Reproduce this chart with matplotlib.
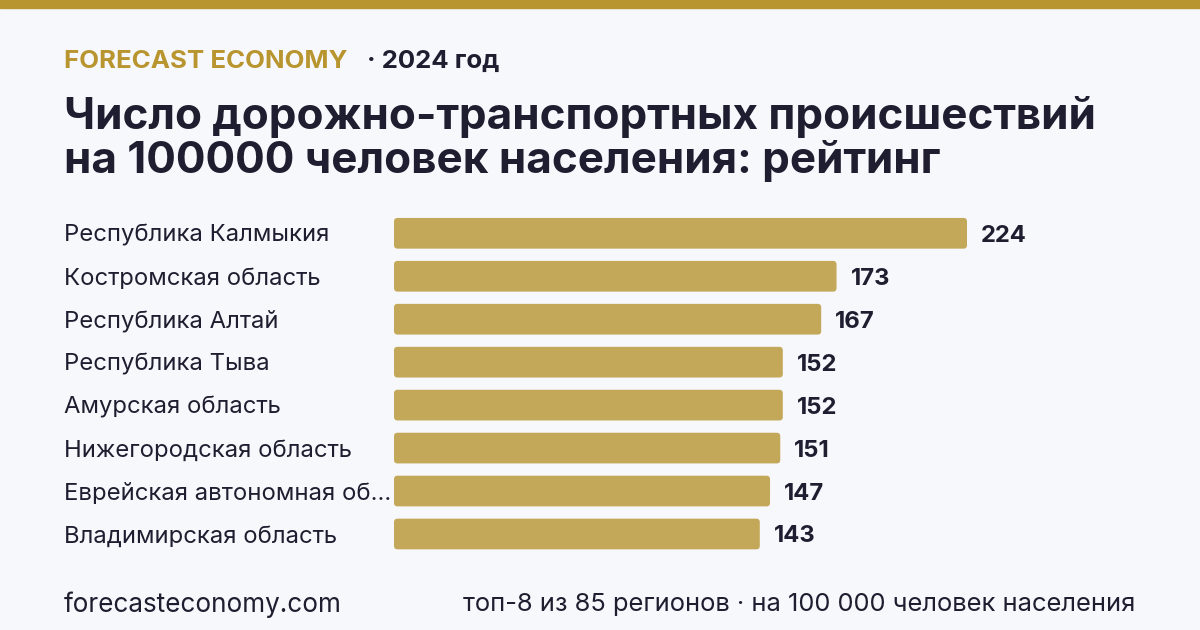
import numpy as np
import matplotlib.pyplot as plt
from matplotlib.patches import FancyBboxPatch, Rectangle
from matplotlib.transforms import blended_transform_factory

# data
regions = [
    "Республика Калмыкия",
    "Костромская область",
    "Республика Алтай",
    "Республика Тыва",
    "Амурская область",
    "Нижегородская область",
    "Еврейская автономная об…",
    "Владимирская область",
]
values = [224, 173, 167, 152, 152, 151, 147, 143]

brand = "FORECAST ECONOMY"
year_text = "· 2024 год"
title = "Число дорожно-транспортных происшествий\nна 100000 человек населения: рейтинг"
footer_left = "forecasteconomy.com"
footer_right = "топ-8 из 85 регионов · на 100 000 человек населения"

BG = "#F7F8FC"
GOLD = "#B8952E"
BAR = "#C4A85A"
DARK = "#1E1E30"

plt.rcParams['font.family'] = ['Inter', 'DejaVu Sans']

W, H = 1200, 630
fig = plt.figure(figsize=(W / 100, H / 100), dpi=100)
fig.patch.set_facecolor(BG)

def fy(px):
    return 1 - px / H

# top stripe
fig.patches.append(Rectangle((0, fy(8)), 1, 8 / H, transform=fig.transFigure,
                             color=GOLD, zorder=0))

# header
fig.text(64 / W, fy(61), brand, color=GOLD, fontsize=18.6, fontweight="bold",
         va="center", ha="left")
fig.text(367 / W, fy(61), year_text, color=DARK, fontsize=18.5, fontweight="bold",
         va="center", ha="left")

fig.text(64 / W, fy(139), title, color=DARK, fontsize=31.7, fontweight="bold",
         va="center", ha="left", linespacing=1.08)

# bars
row = 300.7 / 7
top = 233.3 - row / 2
ax_h = row * 8
ax = fig.add_axes([394 / W, fy(top + ax_h), 573 / W, ax_h / H])
ax.set_facecolor("none")
ax.set_xlim(0, max(values))
ax.set_ylim(len(values) - 0.5, -0.5)
ax.axis("off")

bh = 0.715
aspect = (1 / row) / (max(values) / 573)
txt_off = 2.5 / row
for i, v in enumerate(values):
    p = FancyBboxPatch((0, i - bh / 2), v, bh,
                       boxstyle="round,pad=0,rounding_size=1.4",
                       mutation_aspect=aspect, facecolor=BAR, edgecolor="none",
                       clip_on=False)
    ax.add_patch(p)
    ax.text(v + 14 * max(values) / 573, i + txt_off, str(v), color=DARK, fontsize=17.2,
            fontweight="bold", va="center", ha="left")

tr = blended_transform_factory(fig.transFigure, ax.transData)
for i, name in enumerate(regions):
    ax.text(64 / W, i + txt_off, name, transform=tr, color=DARK, fontsize=17.2,
            va="center", ha="left")

# footer
fig.text(64 / W, fy(605), footer_left, color=DARK, fontsize=18.8, va="center", ha="left")
fig.text(1135 / W, fy(605), footer_right, color=DARK, fontsize=18.4, va="center", ha="right")

fig.savefig("out.png", dpi=100, facecolor=BG)
